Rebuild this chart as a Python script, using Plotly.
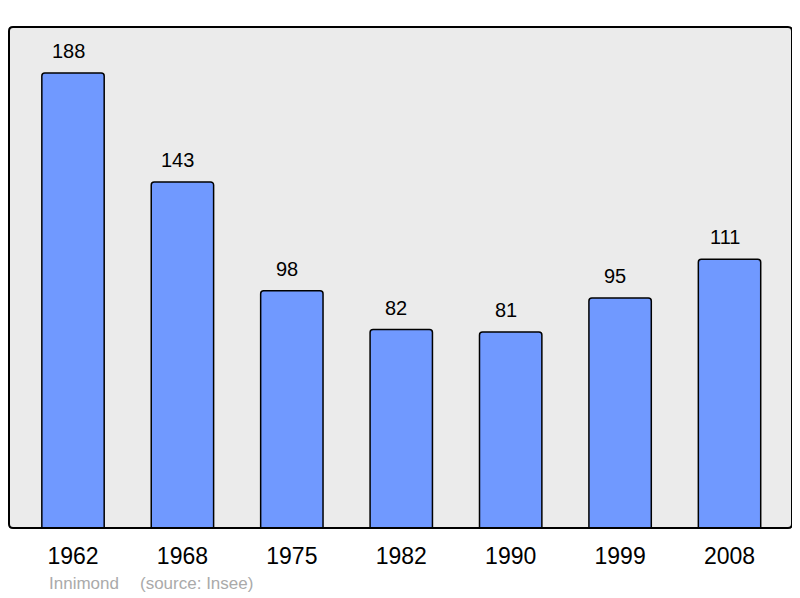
import plotly.graph_objects as go

years = ["1962", "1968", "1975", "1982", "1990", "1999", "2008"]
population = [188, 143, 98, 82, 81, 95, 111]

fig = go.Figure()
fig.add_trace(go.Bar(
    x=years, y=population,
    width=0.57,
    marker=dict(color="#7099ff", line=dict(color="#000000", width=1.5), cornerradius=3),
    hoverinfo="skip",
))

for i, v in enumerate(population):
    fig.add_annotation(x=i, y=v, text=str(v), showarrow=False, yanchor="bottom",
                       yshift=9, xshift=-5, font=dict(size=20, color="#000000"))

PW, PH = 783, 501
src_y = -(583 - 528) / PH
fig.add_annotation(xref="paper", yref="paper", x=(47 - 9) / PW, y=src_y, xanchor="left",
                   yanchor="middle", text="Innimond", showarrow=False,
                   font=dict(size=17, color="#aaaaaa"))
fig.add_annotation(xref="paper", yref="paper", x=(138 - 9) / PW, y=src_y, xanchor="left",
                   yanchor="middle", text="(source: Insee)", showarrow=False,
                   font=dict(size=17, color="#aaaaaa"))

rx, ry = 4 / PW, 4 / PH
path = (f"M {rx},0 L {1-rx},0 Q 1,0 1,{ry} L 1,{1-ry} Q 1,1 {1-rx},1 "
        f"L {rx},1 Q 0,1 0,{1-ry} L 0,{ry} Q 0,0 {rx},0 Z")
fig.add_shape(type="path", xref="paper", yref="paper", path=path,
              line=dict(color="#000000", width=2), layer="above")

fig.update_layout(
    width=792, height=590,
    margin=dict(l=1, r=8, t=19, b=70, pad=0),
    paper_bgcolor="#ffffff",
    plot_bgcolor="#ebebeb",
    font=dict(family="Liberation Sans, Arial, sans-serif"),
    showlegend=False,
    xaxis=dict(type="category", range=[-0.585, 6.571], showgrid=False, zeroline=False,
               tickfont=dict(size=23, color="#000000"), ticks="", ticklabelstandoff=12),
    yaxis=dict(range=[0, 207], showgrid=False, zeroline=False, showticklabels=False, ticks=""),
)

fig.write_html("out.html")
